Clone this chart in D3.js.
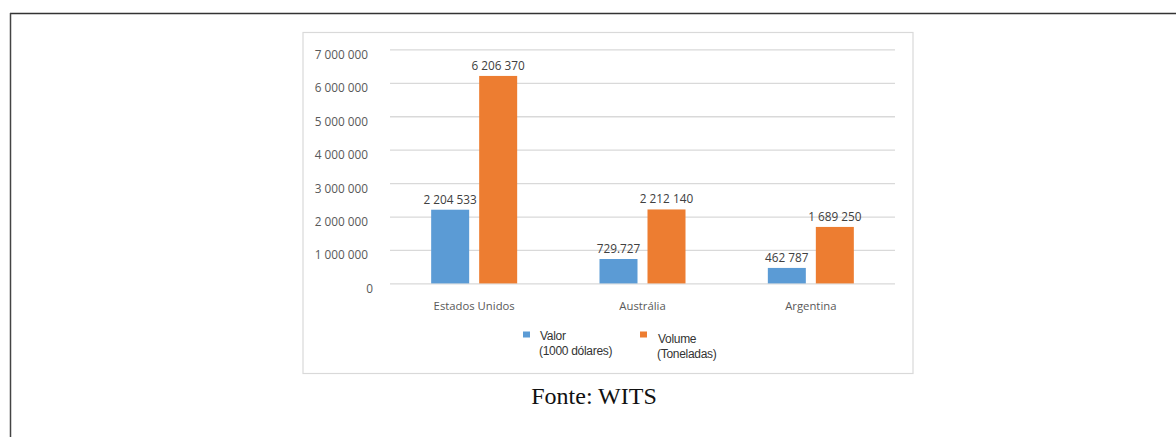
<!DOCTYPE html>
<html>
<head>
<meta charset="utf-8">
<script src="https://cdn.jsdelivr.net/npm/d3@7"></script>
<style>
  html, body { margin: 0; padding: 0; background: #fff; }
  svg { display: block; }
</style>
</head>
<body>
<svg id="chart" width="1176" height="437"></svg>
<script>
const categories = ["Estados Unidos", "Austrália", "Argentina"];
const seriesNames = ["Valor", "Volume"];
const legendLine1 = ["Valor", "Volume"];
const legendLine2 = ["(1000 dólares)", "(Toneladas)"];
const valor = [2204533, 729727, 462787];
const volume = [6206370, 2212140, 1689250];
const valorLabels = ["2 204 533", "729.727", "462 787"];
const volumeLabels = ["6 206 370", "2 212 140", "1 689 250"];
const yTicks = [0, 1000000, 2000000, 3000000, 4000000, 5000000, 6000000, 7000000];
const colors = ["#5b9bd5", "#ed7d31"];
const sourceText = "Fonte: WITS";

const svg = d3.select("#chart");

// page frame (top and left rules)
svg.append("line").attr("x1", 10).attr("x2", 1176).attr("y1", 13.5).attr("y2", 13.5)
  .attr("stroke", "#333").attr("stroke-width", 1.5);
svg.append("line").attr("x1", 10.5).attr("x2", 10.5).attr("y1", 13).attr("y2", 437)
  .attr("stroke", "#444").attr("stroke-width", 1.5);

// chart box
svg.append("rect").attr("x", 303).attr("y", 32.5).attr("width", 610).attr("height", 341)
  .attr("fill", "#fff").attr("stroke", "#d9d9d9").attr("stroke-width", 1.2);

const plot = { left: 390, right: 895, top: 49.4, bottom: 283.4 };

const x0 = d3.scaleBand().domain(categories).range([plot.left, plot.right]).paddingInner(0.489).paddingOuter(0.2445);
const x1 = d3.scaleBand().domain(seriesNames).range([0, 86]).paddingInner(10 / 48);
const y = d3.scaleLinear().domain([0, 7000000]).range([plot.bottom, plot.top]);

const locale = d3.formatLocale({ decimal: ",", thousands: " ", grouping: [3], currency: ["", ""] });
const fmt = locale.format(",");

// gridlines
const yAxis = d3.axisLeft(y).tickValues(yTicks).tickFormat(fmt)
  .tickSize(-(plot.right - plot.left)).tickPadding(22);
const ga = svg.append("g").attr("transform", `translate(${plot.left},0)`).call(yAxis);
ga.select(".domain").remove();
ga.selectAll(".tick line").attr("stroke", "#d9d9d9").attr("stroke-width", 1.3);
ga.selectAll(".tick text")
  .attr("font-family", "'Open Sans', sans-serif").attr("font-size", 11.8)
  .attr("fill", "#595959").attr("dy", "0.8em").attr("y", -0.5)
  .attr("x", d => d === 0 ? -17 : -22);

// bars
const data = categories.map((c, i) => ({ cat: c, vals: [
  { s: seriesNames[0], v: valor[i], label: valorLabels[i] },
  { s: seriesNames[1], v: volume[i], label: volumeLabels[i] }
]}));

const groups = svg.append("g").selectAll("g").data(data).join("g")
  .attr("transform", d => `translate(${x0(d.cat) + (x0.bandwidth() - 86) / 2},0)`);

groups.selectAll("rect").data(d => d.vals).join("rect")
  .attr("x", d => x1(d.s)).attr("width", x1.bandwidth())
  .attr("y", d => y(d.v)).attr("height", d => y(0) - y(d.v))
  .attr("fill", (d, i) => colors[i]);

groups.selectAll("text").data(d => d.vals).join("text")
  .attr("x", d => x1(d.s) + x1.bandwidth() / 2)
  .attr("y", d => y(d.v) - 6)
  .attr("text-anchor", "middle")
  .attr("font-family", "'Open Sans', sans-serif").attr("font-size", 11.8)
  .attr("fill", "#404040")
  .text(d => d.label);

// category axis labels
const xAxis = d3.axisBottom(x0).tickSize(0).tickPadding(19);
const gx = svg.append("g").attr("transform", `translate(0,${plot.bottom})`).call(xAxis);
gx.select(".domain").remove();
gx.selectAll(".tick text")
  .attr("font-family", "'Open Sans', sans-serif").attr("font-size", 11.3)
  .attr("fill", "#595959");

// legend
const legendX = [523, 640];
const legendDy = [0, 3];
const lg = svg.append("g").selectAll("g").data(seriesNames).join("g")
  .attr("transform", (d, i) => `translate(${legendX[i]},${331.5})`);
lg.append("rect").attr("width", 7).attr("height", 6).attr("fill", (d, i) => colors[i]);
lg.append("text").attr("x", (d, i) => i === 0 ? 17 : 18).attr("y", (d, i) => 8 + legendDy[i])
  .attr("font-family", "'Liberation Sans', Arial, sans-serif").attr("font-size", 12)
  .attr("fill", "#333").attr("letter-spacing", -0.3)
  .text((d, i) => legendLine1[i]);
lg.append("text").attr("x", (d, i) => i === 0 ? 16 : 17).attr("y", (d, i) => 23.5 + legendDy[i])
  .attr("font-family", "'Liberation Sans', Arial, sans-serif").attr("font-size", 12)
  .attr("fill", "#333").attr("letter-spacing", -0.3)
  .text((d, i) => legendLine2[i]);

// source
svg.append("text").attr("x", 594).attr("y", 404).attr("text-anchor", "middle")
  .attr("font-family", "'Liberation Serif', 'Times New Roman', serif").attr("font-size", 24)
  .attr("fill", "#111").text(sourceText);
</script>
</body>
</html>
